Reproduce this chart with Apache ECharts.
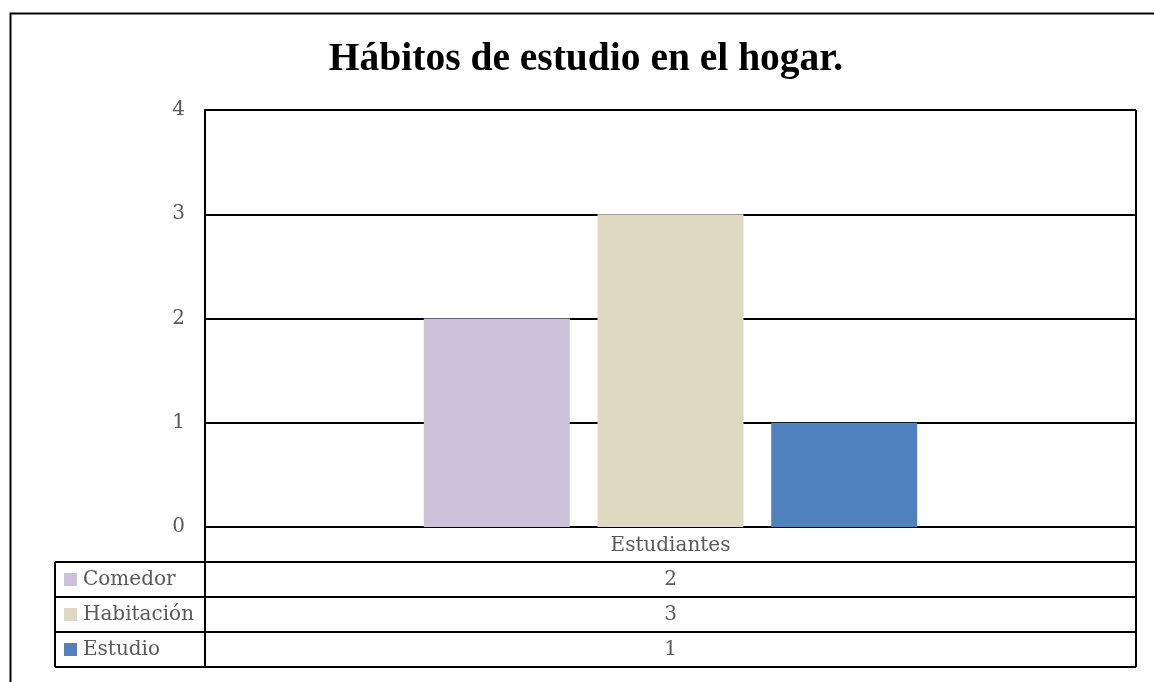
<!DOCTYPE html>
<html>
<head>
<meta charset="utf-8">
<script src="https://cdn.jsdelivr.net/npm/echarts@6/dist/echarts.min.js"></script>
<style>
html,body{margin:0;padding:0;background:#fff;}
#chart{width:1154px;height:682px;}
</style>
</head>
<body>
<div id="chart"></div>
<script>
// ---- data ----
const titleText = 'Hábitos de estudio en el hogar.';
const categories = ['Estudiantes'];
const seriesNames = ['Comedor', 'Habitación', 'Estudio'];
const comedor = [2];
const habitacion = [3];
const estudio = [1];
const yTicks = [0, 1, 2, 3, 4];

// ---- styling / layout ----
const colors = ['#CCC1DA', '#DDD9C3', '#4F81BD'];
const seriesData = [comedor, habitacion, estudio];
const W = 1154, H = 682;
const gridL = 205, gridR = 1136, gridT = 110, gridB = 527;
const rowH = 35;
const tableLeft = 55;
const labelFont = 'DejaVu Serif';
const textColor = '#595959';
const fs = 20;

const chart = echarts.init(document.getElementById('chart'), null, {renderer: 'canvas'});

const series = seriesNames.map((n, i) => ({
  name: n,
  type: 'bar',
  data: seriesData[i],
  itemStyle: {color: colors[i]},
  barGap: '19%',
  barCategoryGap: '47%',
  z: 3
}));

// data table graphics (layout built from the grid constants, text from the data arrays)
const graphics = [];
const lineStyle = {stroke: '#000', lineWidth: 2};
// outer border
graphics.push({type: 'rect', shape: {x: 10.5, y: 13.5, width: 1200, height: 700}, style: {fill: null, stroke: '#000', lineWidth: 2}, silent: true});
const tableBottom = gridB + rowH * (1 + seriesNames.length);
// right border of plot + table
graphics.push({type: 'line', shape: {x1: gridR, y1: gridT, x2: gridR, y2: tableBottom}, style: lineStyle, silent: true});
// left axis line extension down
graphics.push({type: 'line', shape: {x1: gridL, y1: gridB, x2: gridL, y2: tableBottom}, style: lineStyle, silent: true});
// legend column left border
graphics.push({type: 'line', shape: {x1: tableLeft, y1: gridB + rowH, x2: tableLeft, y2: tableBottom}, style: lineStyle, silent: true});
for (let r = 1; r <= seriesNames.length + 1; r++) {
  const y = gridB + rowH * r;
  graphics.push({type: 'line', shape: {x1: tableLeft, y1: y, x2: gridR, y2: y}, style: lineStyle, silent: true});
}
seriesNames.forEach((n, i) => {
  const yc = gridB + rowH * (i + 1) + rowH / 2;
  graphics.push({type: 'rect', shape: {x: 64, y: yc - 6.5, width: 13, height: 13}, style: {fill: colors[i]}, silent: true});
  graphics.push({type: 'text', x: 83, y: yc, style: {text: n, font: fs + 'px "' + labelFont + '"', fill: textColor, textVerticalAlign: 'middle', verticalAlign: 'middle'}, silent: true});
  graphics.push({type: 'text', x: (gridL + gridR) / 2, y: yc, style: {text: String(seriesData[i][0]), font: fs + 'px "' + labelFont + '"', fill: textColor, align: 'center', textAlign: 'center', verticalAlign: 'middle', textVerticalAlign: 'middle'}, silent: true});
});

chart.setOption({
  animation: false,
  backgroundColor: '#fff',
  title: {
    text: titleText,
    left: 581, textAlign: 'center',
    top: 35,
    textStyle: {fontFamily: 'Liberation Serif', fontWeight: 'bold', fontSize: 39.5, color: '#000'}
  },
  grid: {left: gridL, right: W - gridR, top: gridT, bottom: H - gridB, containLabel: false},
  xAxis: {
    type: 'category',
    data: categories,
    axisLine: {show: true, lineStyle: {color: '#000', width: 2}},
    axisTick: {show: false},
    axisLabel: {fontFamily: labelFont, fontSize: fs, color: textColor, margin: 9}
  },
  yAxis: {
    type: 'value',
    min: yTicks[0], max: yTicks[yTicks.length - 1], interval: 1,
    axisLine: {show: true, lineStyle: {color: '#000', width: 2}},
    axisTick: {show: false},
    splitLine: {show: true, lineStyle: {color: '#000', width: 2}},
    axisLabel: {fontFamily: labelFont, fontSize: fs, color: textColor, margin: 20, padding: [5, 0, 0, 0]}
  },
  series: series,
  graphic: graphics
});
</script>
</body>
</html>
